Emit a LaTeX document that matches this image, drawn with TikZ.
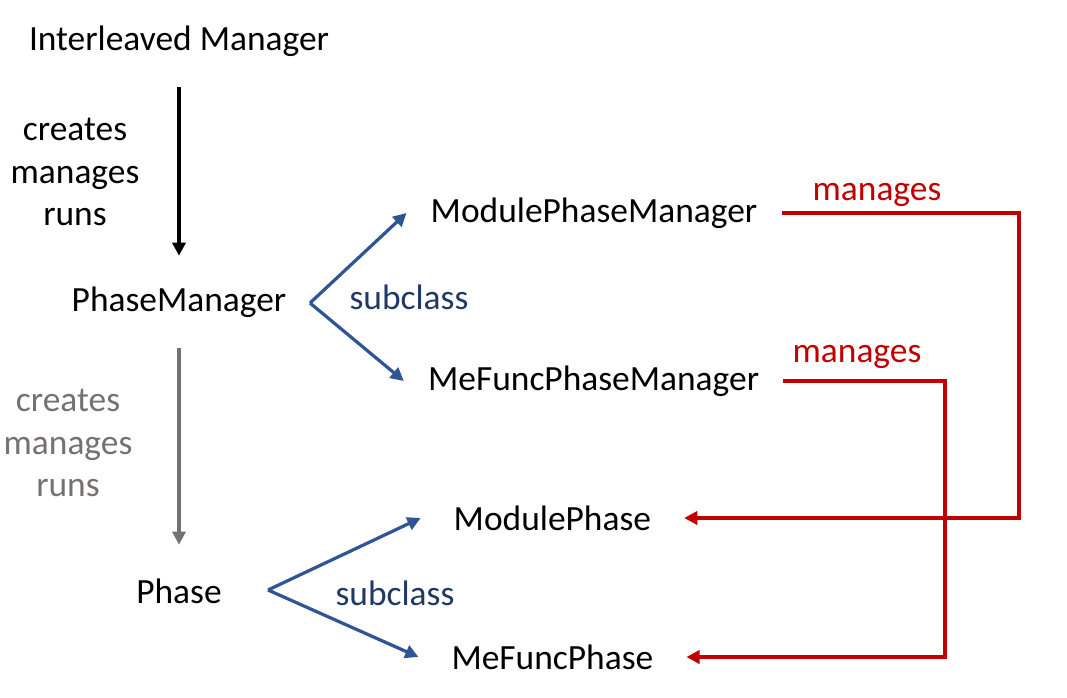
\documentclass[tikz,border=0pt]{standalone}
\usepackage{fontspec}
\setmainfont{Carlito}
\usetikzlibrary{arrows.meta}

\definecolor{subblue}{HTML}{2F5597}
\definecolor{subtext}{HTML}{203864}
\definecolor{mgred}{HTML}{C00000}
\definecolor{rungray}{HTML}{767171}

\tikzset{
  txt/.style={font=\fontsize{25.2}{30}\selectfont, align=center},
  mgr/.style={txt, minimum height=2.3cm},
  cls/.style={txt, inner xsep=0.6cm},
  tip/.style={-{Triangle[length=0.33cm,width=0.33cm]}, line width=2.3pt},
}

\begin{document}
\begin{tikzpicture}
            \useasboundingbox (0,0) rectangle (26.675,17.425);

            % left column
            \node[mgr] (im) at (4.475,16.4) {Interleaved Manager};
            \node[mgr] (pm) at (4.475,9.875) {PhaseManager};
            \node[mgr] (ph) at (4.475,2.65) {Phase};

            \draw[tip] (im.south) -- (pm.north);
            \draw[tip, rungray] (pm.south) -- (ph.north);

            \node[txt] at (1.875,13.125) {creates\\manages\\runs};
            \node[txt, rungray] at (1.7,6.35) {creates\\manages\\runs};

            % subclasses
            \node[cls] (mpm) at (14.85,12.1) {ModulePhaseManager};
            \node[cls] (mfpm) at (14.84,7.9) {MeFuncPhaseManager};
            \node[cls, inner xsep=0.82cm] (mp) at (13.81,4.475) {ModulePhase};
            \node[cls, inner xsep=0.82cm] (mfp) at (13.81,1.0) {MeFuncPhase};

            \coordinate (pmfork) at (7.75,9.85);
            \coordinate (phfork) at (6.7,2.675);

            \draw[tip, subblue] (pmfork) -- (mpm.west);
            \draw[tip, subblue] (pmfork) -- (mfpm.west);
            \draw[tip, subblue] (phfork) -- (mp.west);
            \draw[tip, subblue] (phfork) -- (mfp.west);

            \node[txt, subtext] at (10.225,10.0) {subclass};
            \node[txt, subtext] at (9.875,2.6) {subclass};

            % manages
            \coordinate (r1) at (25.475,0);
            \coordinate (r2) at (23.625,0);

            \draw[tip, mgred] (mpm.east) -- (mpm.east -| r1) |- (mp.east);
            \draw[tip, mgred] (mfpm.east) -- (mfpm.east -| r2) |- (mfp.east);

            \node[txt, mgred] at (21.925,12.55) {manages};
            \node[txt, mgred] at (21.425,8.5) {manages};
        \end{tikzpicture}
\end{document}
